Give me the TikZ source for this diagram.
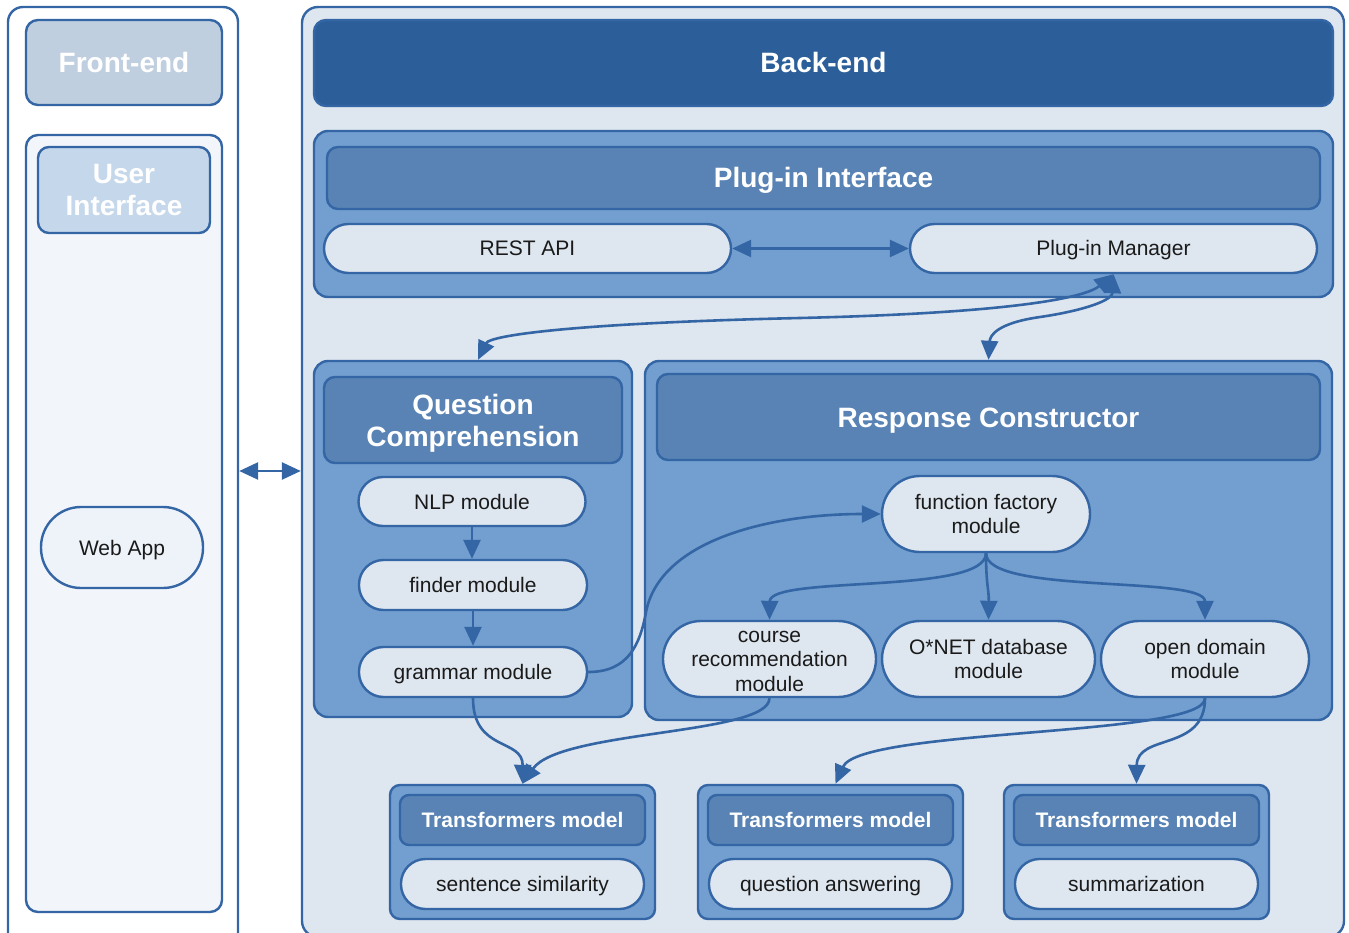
\documentclass[tikz,border=0pt]{standalone}
\usepackage{fontspec}
\setmainfont{Liberation Sans}
\usetikzlibrary{arrows.meta}

\definecolor{edge}{HTML}{3465A4}
\definecolor{deep}{HTML}{2C5F99}
\definecolor{mid}{HTML}{729FCF}
\definecolor{head}{HTML}{5983B4}
\definecolor{pale}{HTML}{DEE6EF}
\definecolor{fehead}{HTML}{BFCFDF}
\definecolor{uihead}{HTML}{C5D7EA}
\definecolor{uibody}{HTML}{F2F6FB}
\definecolor{webfill}{HTML}{EEF3FA}
\definecolor{ink}{HTML}{1A1A1A}

\tikzset{
  box/.style={draw=edge, line width=2.4pt, rectangle, inner sep=0pt},
  frame/.style={box, rounded corners=15pt},
  panel/.style={box, fill=mid, rounded corners=14pt},
  tpanel/.style={box, fill=mid, rounded corners=10pt},
  title/.style={box, fill=head, rounded corners=11pt, text=white,
    font=\bfseries\fontsize{28}{32}\selectfont, align=center,
    text height=20pt, text depth=0pt},
  title two/.style={text height=52pt},
  smalltitle/.style={title, rounded corners=9pt,
    font=\bfseries\fontsize{21}{25}\selectfont,
    text height=15pt, text depth=0pt},
  pill/.style={box, fill=pale, rounded corners=24.5pt, text=ink,
    font=\fontsize{21}{24.5}\selectfont, align=center,
    text height=15pt, text depth=0pt},
  tallpill/.style={pill, rounded corners=38pt},
  two lines/.style={text height=39.5pt},
  three lines/.style={text height=64pt},
  tip/.tip={Triangle[length=19pt,width=17pt]},
  arr/.style={draw=edge, line width=2.6pt, -tip},
  arrs/.style={draw=edge, line width=2.6pt, tip-tip},
}

\begin{document}
\begin{tikzpicture}[x=1pt,y=-1pt]
\useasboundingbox (0,0) rectangle (1349,933);
\clip (0,0) rectangle (1349,933);

% ---------- front-end column ----------
\node[frame, fill=white, minimum width=230, minimum height=948] (fe) at (123,481) {};
\node[title, fill=fehead, rounded corners=12pt, minimum width=196, minimum height=85] (fehd) at (124,62.5) {Front-end};
\node[box, fill=uibody, rounded corners=12pt, minimum width=196, minimum height=777] (uibox) at (124,523.5) {};
\node[title, title two, fill=uihead, minimum width=172, minimum height=86] (uihd) at (124,190) {User\\Interface};
\node[pill, fill=webfill, rounded corners=40pt, minimum width=162, minimum height=81] (webapp) at (122,547.5) {Web App};

% ---------- back-end column ----------
\node[frame, fill=pale, rounded corners=16pt, minimum width=1042, minimum height=930] (be) at (823,472) {};
\node[title, fill=deep, rounded corners=12pt, minimum width=1019, minimum height=86] (behd) at (823.5,63) {Back-end};

% plug-in interface
\node[panel, minimum width=1019, minimum height=166] (plug) at (823.5,214) {};
\node[title, minimum width=993, minimum height=62] (plughd) at (823.5,178) {Plug-in Interface};
\node[pill, minimum width=407, minimum height=49] (rest) at (527.5,248.5) {REST API};
\node[pill, minimum width=407, minimum height=49] (pm) at (1113.5,248.5) {Plug-in Manager};

% question comprehension
\node[panel, minimum width=318, minimum height=356] (qc) at (473,539) {};
\node[title, title two, minimum width=298, minimum height=86] (qchd) at (473,420) {Question\\Comprehension};
\node[pill, minimum width=227, minimum height=49] (nlp) at (472,501.5) {NLP module};
\node[pill, minimum width=228, minimum height=50] (finder) at (473,585) {finder module};
\node[pill, minimum width=228, minimum height=50] (grammar) at (473,672) {grammar module};

% response constructor
\node[panel, minimum width=687, minimum height=359] (rc) at (988.5,540.5) {};
\node[title, minimum width=663, minimum height=86] (rchd) at (988.5,417) {Response Constructor};
\node[tallpill, two lines, minimum width=208, minimum height=76] (ff) at (986,514) {function factory\\module};
\node[tallpill, three lines, minimum width=213, minimum height=76] (course) at (769.5,659) {course\\recommendation\\module};
\node[tallpill, two lines, minimum width=213, minimum height=76] (onet) at (988.5,659) {O*NET database\\module};
\node[tallpill, two lines, minimum width=208, minimum height=76] (open) at (1205,659) {open domain\\module};

% transformers models
\node[tpanel, minimum width=265, minimum height=134] (t1) at (522.5,852) {};
\node[smalltitle, minimum width=245, minimum height=50] (t1hd) at (522.5,820) {Transformers model};
\node[pill, minimum width=243, minimum height=50] (t1p) at (522.5,884) {sentence similarity};

\node[tpanel, minimum width=265, minimum height=134] (t2) at (830.5,852) {};
\node[smalltitle, minimum width=245, minimum height=50] (t2hd) at (830.5,820) {Transformers model};
\node[pill, minimum width=243, minimum height=50] (t2p) at (830.5,884) {question answering};

\node[tpanel, minimum width=265, minimum height=134] (t3) at (1136.5,852) {};
\node[smalltitle, minimum width=245, minimum height=50] (t3hd) at (1136.5,820) {Transformers model};
\node[pill, minimum width=243, minimum height=50] (t3p) at (1136.5,884) {summarization};

% ---------- connectors ----------
\coordinate (link) at (270,471);
\draw[arrs] (link -| fe.east) -- (link -| be.west);

\draw[arrs] (rest.east) -- (pm.west);
\draw[arrs] (pm.south) .. controls (1085,298) and (1010,313) .. (800,318)
  .. controls (580,323) and (490,335) .. ([xshift=5pt]qc.north);
\draw[arrs] (pm.south) .. controls (1112,302) and (1075,312) .. (1040,317)
  .. controls (998,323) and (990,335) .. (rc.north);

\draw[arr] (nlp.south) -- (nlp.south |- finder.north);
\draw[arr] (finder.south) -- (grammar.north);

\draw[arr] (grammar.east) .. controls (628,672) and (640,645) .. (646,612)
  .. controls (660,540) and (770,514) .. (ff.west);

\draw[arr] (ff.south) .. controls (986,595) and (770,575) .. (course.north);
\draw[arr] (ff.south) .. controls (986,585) and (989,590) .. (onet.north);
\draw[arr] (ff.south) .. controls (986,595) and (1205,575) .. (open.north);

\draw[arr] (grammar.south) .. controls (473,752) and (523,738) .. (t1.north);
\draw[arr] (course.south) .. controls (769,735) and (560,730) .. (t1.north);
\draw[arr] (open.south) .. controls (1205,737) and (860,728) .. ([xshift=5pt]t2.north);
\draw[arr] (open.south) .. controls (1205,752) and (1137,733) .. (t3.north);
\end{tikzpicture}
\end{document}
